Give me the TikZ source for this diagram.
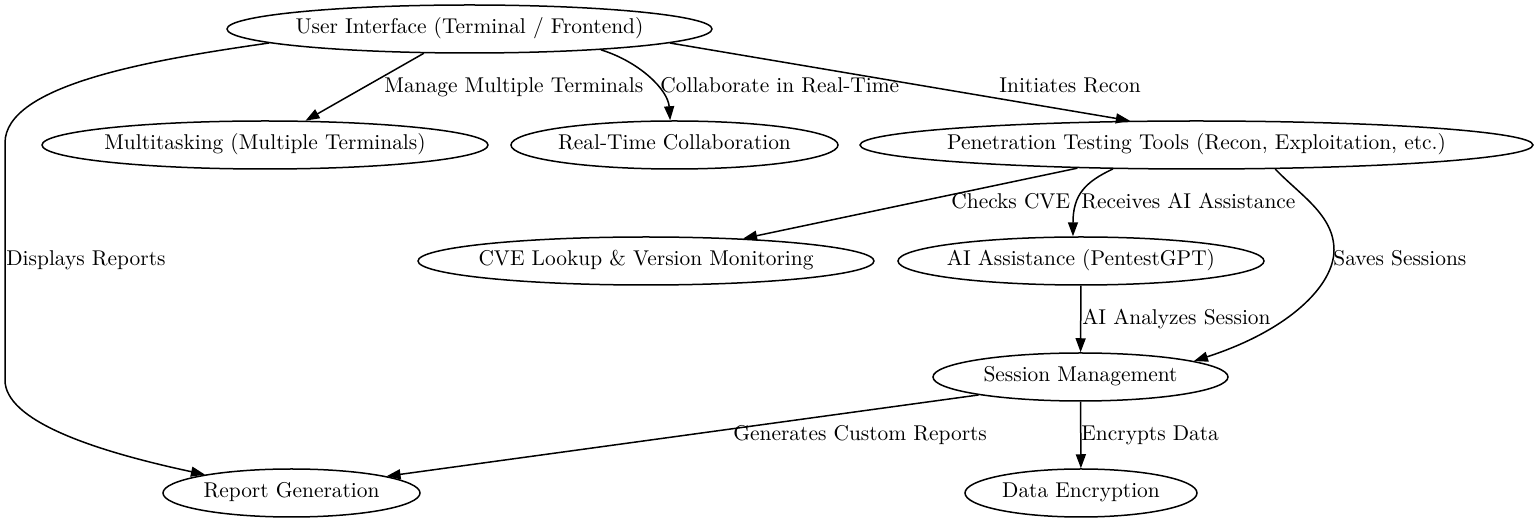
\documentclass[tikz,border=0pt]{standalone}
\usetikzlibrary{arrows.meta,shapes.geometric}
\begin{document}
\begin{tikzpicture}[x=0.5pt,y=-0.5pt,
  box/.style={draw, ellipse, inner ysep=0pt, inner xsep=-6pt, minimum height=24pt, line width=0.75pt,
    font=\fontsize{10.7}{12.5}\selectfont, text height=7.5pt, text depth=2.5pt},
  lbl/.style={anchor=base west, inner sep=0pt, font=\fontsize{10.7}{12.5}\selectfont},
  conn/.style={line width=0.75pt, -{Triangle[length=7pt,width=5pt]}}]
\useasboundingbox (0,0) rectangle (1539,523);
% nodes
\node[box, minimum width=242.5pt] (UI) at (469.5,29) {User Interface (Terminal / Frontend)};
\node[box, minimum width=223pt] (MT) at (265,145) {Multitasking (Multiple Terminals)};
\node[box, minimum width=163.5pt] (RT) at (674.5,145) {Real-Time Collaboration};
\node[box, minimum width=336.5pt] (PT) at (1196.5,145) {Penetration Testing Tools (Recon, Exploitation, etc.)};
\node[box, minimum width=228pt] (CVE) at (646,261) {CVE Lookup \& Version Monitoring};
\node[box, minimum width=183pt] (AI) at (1081,261) {AI Assistance (PentestGPT)};
\node[box, minimum width=147.5pt] (SM) at (1080.5,377) {Session Management};
\node[box, minimum width=128.5pt] (RG) at (291.5,493) {Report Generation};
\node[box, minimum width=116pt] (DE) at (1081,493) {Data Encryption};
% edges
\draw[conn] (UI.-152.7) -- (MT.31.2);
\draw[conn] (UI.-9.6) .. controls (640,62) and (668,90) .. (RT.100.6);
\draw[conn] (UI.-4.9) -- (PT.160.9);
\draw[conn] (UI.-176.3) .. controls (150,60) and (5,85) .. (5,143) -- (5,380)
  .. controls (5,420) and (90,450) .. (RG.168.2);
\draw[conn] (PT.-169.7) -- (CVE.13.6);
\draw[conn] (PT.-164) .. controls (1085,182) and (1073,195) .. (AI.108);
\draw[conn] (PT.-17.4) .. controls (1300,195) and (1334,215) .. (1334,250)
  .. controls (1334,285) and (1290,330) .. (SM.8.8);
\draw[conn] (AI) -- (SM);
\draw[conn] (SM.-170.8) -- (RG.10.7);
\draw[conn] (SM) -- (DE);
% labels
\node[lbl] (l1) at (384,93) {Manage Multiple Terminals};
\node[lbl] (l2) at (660,93) {Collaborate in Real-Time};
\node[lbl] (l3) at (999,93) {Initiates Recon};
\node[lbl] (l4) at (6,266) {Displays Reports};
\node[lbl] (l5) at (951,209) {Checks CVE};
\node[lbl] (l6) at (1081,209) {Receives AI Assistance};
\node[lbl] (l7) at (1333,266) {Saves Sessions};
\node[lbl] (l8) at (1082,325) {AI Analyzes Session};
\node[lbl] (l9) at (733,441) {Generates Custom Reports};
\node[lbl] (l10) at (1081,441) {Encrypts Data};
\end{tikzpicture}
\end{document}
